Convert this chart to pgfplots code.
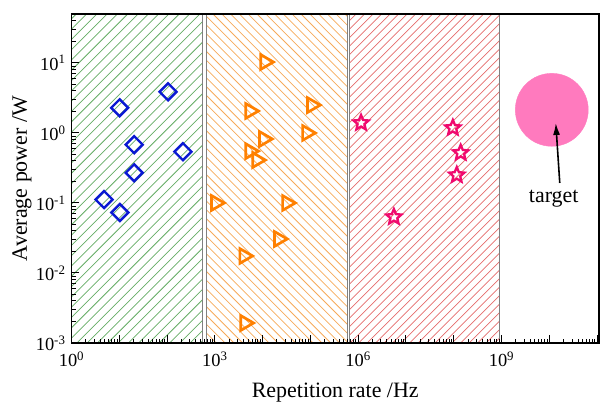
\documentclass[border=0pt]{standalone}
\usepackage{fontspec}
\setmainfont{Liberation Serif}
\usepackage{pgfplots}
\pgfplotsset{compat=1.18}
\usetikzlibrary{arrows.meta}

\definecolor{hgreen}{RGB}{100,172,100}
\definecolor{horange}{RGB}{246,170,90}
\definecolor{hred}{RGB}{228,108,108}
\definecolor{mblue}{RGB}{10,25,210}
\definecolor{morange}{RGB}{255,128,0}
\definecolor{mpink}{RGB}{240,10,110}
\definecolor{tpink}{RGB}{255,122,190}
\definecolor{bordergray}{RGB}{128,128,128}

\pgfdeclareplotmark{pstar}{%
  \pgfpathmoveto{\pgfpointpolar{90}{\pgfplotmarksize}}%
  \pgfpathlineto{\pgfpointpolar{126}{0.45\pgfplotmarksize}}%
  \pgfpathlineto{\pgfpointpolar{162}{\pgfplotmarksize}}%
  \pgfpathlineto{\pgfpointpolar{198}{0.45\pgfplotmarksize}}%
  \pgfpathlineto{\pgfpointpolar{234}{\pgfplotmarksize}}%
  \pgfpathlineto{\pgfpointpolar{270}{0.45\pgfplotmarksize}}%
  \pgfpathlineto{\pgfpointpolar{306}{\pgfplotmarksize}}%
  \pgfpathlineto{\pgfpointpolar{342}{0.45\pgfplotmarksize}}%
  \pgfpathlineto{\pgfpointpolar{18}{\pgfplotmarksize}}%
  \pgfpathlineto{\pgfpointpolar{54}{0.45\pgfplotmarksize}}%
  \pgfpathclose
  \pgfusepathqstroke}

\begin{document}
\begin{tikzpicture}
\begin{axis}[
  at={(0,0)}, anchor=south west,
  scale only axis,
  width=527.5bp, height=329bp,
  xmode=log, ymode=log,
  xmin=1, xmax=1.1e11,
  ymin=1e-3, ymax=50,
  set layers,
  axis on top,
  axis line style={line width=1.4bp, black},
  tick pos=left,
  tick align=inside,
  major tick length=8bp,
  minor tick length=4.5bp,
  every tick/.style={black, line width=1bp},
  xtick={1,10,100,1000,1e4,1e5,1e6,1e7,1e8,1e9,1e10,1e11},
  xticklabels={10\textsuperscript{0},,,10\textsuperscript{3},,,10\textsuperscript{6},,,10\textsuperscript{9},,},
  minor xtick={2,3,4,5,6,7,8,9,20,30,40,50,60,70,80,90,200,300,400,500,600,700,800,900,2000,3000,4000,5000,6000,7000,8000,9000,
    2e4,3e4,4e4,5e4,6e4,7e4,8e4,9e4,2e5,3e5,4e5,5e5,6e5,7e5,8e5,9e5,2e6,3e6,4e6,5e6,6e6,7e6,8e6,9e6,
    2e7,3e7,4e7,5e7,6e7,7e7,8e7,9e7,2e8,3e8,4e8,5e8,6e8,7e8,8e8,9e8,2e9,3e9,4e9,5e9,6e9,7e9,8e9,9e9,
    2e10,3e10,4e10,5e10,6e10,7e10,8e10,9e10},
  ytick={1e-3,1e-2,1e-1,1,10},
  yticklabels={10\textsuperscript{-3},10\textsuperscript{-2},10\textsuperscript{-1},10\textsuperscript{0},10\textsuperscript{1}},
  minor ytick={2e-3,3e-3,4e-3,5e-3,6e-3,7e-3,8e-3,9e-3,2e-2,3e-2,4e-2,5e-2,6e-2,7e-2,8e-2,9e-2,
    0.2,0.3,0.4,0.5,0.6,0.7,0.8,0.9,2,3,4,5,6,7,8,9,20,30,40},
  ticklabel style={font=\fontsize{18.5}{20}\selectfont},
  xticklabel style={yshift=-5bp},
  yticklabel style={xshift=-2.5bp},
  xlabel={Repetition rate /Hz},
  ylabel={Average power /W},
  label style={font=\fontsize{22}{24}\selectfont},
  xlabel style={at={(axis description cs:0.5,-0.165)}, anchor=base},
  ylabel style={at={(axis description cs:-0.0844,0.5)}, anchor=base, rotate=0},
]
% hatching of the three regions
\begin{scope}
  \clip (axis cs:1,1e-3) rectangle (axis cs:560,50);
  \pgfplotsinvokeforeach{0,...,82}{
    \draw[hgreen, line width=0.75bp, shift={(axis cs:1,1e-3)}] (#1*10.3bp-500bp,0) ++(-600bp,-600bp) -- ++(1200bp,1200bp);
  }
\end{scope}
\begin{scope}
  \clip (axis cs:680,1e-3) rectangle (axis cs:5.9e5,50);
  \pgfplotsinvokeforeach{0,...,108}{
    \draw[horange, line width=0.75bp, shift={(axis cs:680,1e-3)}] (#1*8.8bp-200bp,0) ++(600bp,-600bp) -- ++(-1200bp,1200bp);
  }
\end{scope}
\begin{scope}
  \clip (axis cs:6.7e5,1e-3) rectangle (axis cs:9.2e8,50);
  \pgfplotsinvokeforeach{0,...,98}{
    \draw[hred, line width=0.75bp, shift={(axis cs:6.7e5,1e-3)}] (#1*8.5bp-500bp,0) ++(-600bp,-600bp) -- ++(1200bp,1200bp);
  }
\end{scope}
% region outlines
\addplot[draw=bordergray, line width=1.3bp]
  coordinates {(1,1e-3) (560,1e-3) (560,50) (1,50) (1,1e-3)};
\addplot[draw=bordergray, line width=1.3bp]
  coordinates {(680,1e-3) (5.9e5,1e-3) (5.9e5,50) (680,50) (680,1e-3)};
\addplot[draw=bordergray, line width=1.3bp]
  coordinates {(6.7e5,1e-3) (9.2e8,1e-3) (9.2e8,50) (6.7e5,50) (6.7e5,1e-3)};

% blue diamonds
\addplot[only marks, mark=square, mark size=6bp, mark options={rotate=45, draw=mblue, line width=2.4bp}]
  coordinates {(10.2,2.29) (105,3.87) (20.5,0.68) (215,0.54) (20.5,0.27) (4.8,0.112) (10.3,0.073)};

% orange triangles
\addplot[only marks, mark=triangle, mark size=8.5bp, mark options={rotate=-90, draw=morange, line width=2.7bp}]
  coordinates {(11200,10.3) (5450,2.06) (1.07e5,2.5) (10600,0.82) (84500,1.0) (5450,0.55) (7600,0.41)
    (1050,0.1) (32200,0.1) (21800,0.0306) (4100,0.0175) (4300,0.00193)};

% pink stars
\addplot[only marks, mark=pstar, mark size=8bp, mark options={draw=mpink, line width=2.3bp, line join=miter}]
  coordinates {(1.15e6,1.39) (9.6e7,1.18) (1.4e8,0.52) (1.16e8,0.25) (5.6e6,0.063)};

% target
\addplot[only marks, mark=*, mark size=36.6pt, color=tpink, mark options={fill=tpink, draw=tpink}]
  coordinates {(1.13e10,2.14)};
\begin{pgfonlayer}{axis foreground}
\draw[line width=1.6bp, -{Latex[length=12bp,width=7bp]}] (axis cs:1.66e10,0.193) -- (axis cs:1.37e10,1.39);
\node[anchor=base, font=\fontsize{22}{24}\selectfont, inner sep=0pt] at (axis cs:1.24e10,0.1) {target};
\end{pgfonlayer}
\end{axis}
\pgfresetboundingbox
\path[use as bounding box] (-71.5bp,-59bp) rectangle (529.5bp,343bp);
\end{tikzpicture}
\end{document}
